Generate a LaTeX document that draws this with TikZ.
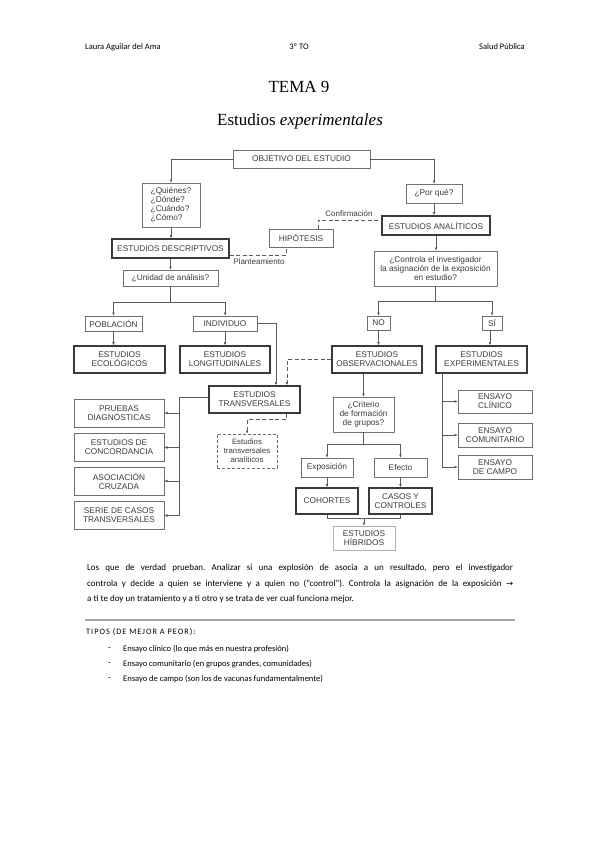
\documentclass[tikz,border=0pt]{standalone}
\usepackage{fontspec}
\setmainfont{Liberation Serif}
\newfontfamily\diagfont{Liberation Sans}
\newfontfamily\calfont{Carlito}
\newfontfamily\calspfont[LetterSpace=12]{Carlito}
\newfontfamily\symfont{DejaVu Sans}
\usetikzlibrary{arrows.meta}
\definecolor{boxgray}{HTML}{6E6E6E}
\definecolor{thickgray}{HTML}{3A3A3A}
\definecolor{linegray}{HTML}{5A5A5A}
\definecolor{txt}{HTML}{3C3C3C}
\definecolor{rulegray}{HTML}{A8A8A8}
\frenchspacing
\begin{document}
\begin{tikzpicture}[x=1pt,y=-1pt,
  nbox/.style={draw=boxgray, line width=0.6pt, inner sep=0pt, align=center, text=txt,
    font=\diagfont\fontsize{8.3}{9}\selectfont},
  tbox/.style={nbox, draw=thickgray, line width=1.5pt},
  dbox/.style={nbox, draw=black!55, dash pattern=on 0.6pt off 0.4pt},
  dsbox/.style={nbox, dash pattern=on 3pt off 2pt, font=\diagfont\fontsize{7.8}{9}\selectfont},
  hbox/.style={nbox, draw=black!30},
  ln/.style={draw=linegray, line width=0.6pt},
  arr/.style={ln, -{Latex[length=3.2pt,width=2.8pt]}},
  dl/.style={ln, dash pattern=on 4pt off 2.5pt},
  darr/.style={dl, -{Latex[length=3.2pt,width=2.8pt]}},
  lbl/.style={text=txt, font=\diagfont\fontsize{8}{9}\selectfont, inner sep=0pt},
  hdr/.style={font=\calfont\fontsize{8.5}{10}\selectfont, inner sep=0pt, text=black},
  body/.style={font=\calfont\fontsize{9}{11}\selectfont, inner sep=0pt, text=black, anchor=west},
]
\path[use as bounding box, fill=white] (0,0) rectangle (599,848);

% header
\node[hdr, anchor=west] (h1) at (85,47) {Laura Aguilar del Ama};
\node[hdr] (h2) at (299,47) {3º TO};
\node[hdr, anchor=east] (h3) at (525,47) {Salud Pública};
\node[inner sep=0pt, font=\fontsize{17}{20}\selectfont] (t1) at (299,87) {TEMA 9};
\node[inner sep=0pt, font=\fontsize{17}{20}\selectfont] (t2) at (300,121) {Estudios \textit{experimentales}};

% boxes
\node[nbox, minimum width=137pt, minimum height=18pt] (obj) at (301.5,159) {OBJETIVO DEL ESTUDIO};
\node[dbox, minimum width=58pt, minimum height=44pt, align=left] (quien) at (171,205) {¿Quiénes?\\¿Dónde?\\¿Cuándo?\\¿Cómo?};
\node[tbox, minimum width=117pt, minimum height=19pt] (desc) at (170.5,248.5) {ESTUDIOS DESCRIPTIVOS};
\node[nbox, minimum width=95pt, minimum height=16pt] (unidad) at (170.5,278) {¿Unidad de análisis?};
\node[nbox, minimum width=64pt, minimum height=18pt] (hip) at (301,238) {HIPÓTESIS};
\node[dbox, minimum width=56pt, minimum height=19pt] (porque) at (434,193.5) {¿Por qué?};
\node[tbox, minimum width=108pt, minimum height=19pt] (anal) at (436,225.5) {ESTUDIOS ANALÍTICOS};
\node[dbox, minimum width=123pt, minimum height=35pt] (controla) at (435.5,268.5) {¿Controla el investigador\\la asignación de la exposición\\en estudio?};
\node[nbox, minimum width=23pt, minimum height=14pt] (no) at (378.5,323) {NO};
\node[nbox, minimum width=20pt, minimum height=14pt] (si) at (492,323) {SÍ};
\node[tbox, minimum width=90pt, minimum height=27pt] (obs) at (377,359.5) {ESTUDIOS\\OBSERVACIONALES};
\node[tbox, minimum width=91pt, minimum height=27pt] (exp) at (481.5,359.5) {ESTUDIOS\\EXPERIMENTALES};
\node[nbox, minimum width=57pt, minimum height=15pt] (pob) at (113.5,323.5) {POBLACIÓN};
\node[nbox, minimum width=64pt, minimum height=15pt] (ind) at (225,323.5) {INDIVIDUO};
\node[tbox, minimum width=91pt, minimum height=27pt] (eco) at (119.5,359.5) {ESTUDIOS\\ECOLÓGICOS};
\node[tbox, minimum width=90pt, minimum height=27pt] (lon) at (225,359.5) {ESTUDIOS\\LONGITUDINALES};
\node[tbox, minimum width=91pt, minimum height=27pt] (trans) at (254.5,399.5) {ESTUDIOS\\TRANSVERSALES};
\node[dsbox, minimum width=60pt, minimum height=34pt] (tanal) at (247,451) {Estudios\\transversales\\analíticos};
\node[nbox, minimum width=90pt, minimum height=28pt] (pru) at (119,413) {PRUEBAS\\DIAGNÓSTICAS};
\node[nbox, minimum width=90pt, minimum height=28pt] (conc) at (119,447.5) {ESTUDIOS DE\\CONCORDANCIA};
\node[nbox, minimum width=90pt, minimum height=28pt] (asoc) at (119,481) {ASOCIACIÓN\\CRUZADA};
\node[nbox, minimum width=90pt, minimum height=28pt] (serie) at (119,515.5) {SERIE DE CASOS\\TRANSVERSALES};
\node[dbox, minimum width=61pt, minimum height=35pt] (crit) at (363.5,414.5) {¿Criterio\\de formación\\de grupos?};
\node[dbox, minimum width=52pt, minimum height=19pt] (expo) at (327,467.5) {Exposición};
\node[dbox, minimum width=53pt, minimum height=19pt] (efe) at (400.5,467.5) {Efecto};
\node[tbox, minimum width=62pt, minimum height=26pt] (coh) at (327,501) {COHORTES};
\node[tbox, minimum width=63pt, minimum height=26pt] (casos) at (400.5,501) {CASOS Y\\CONTROLES};
\node[hbox, minimum width=62pt, minimum height=24pt] (hib) at (364,538) {ESTUDIOS\\HÍBRIDOS};
\node[nbox, minimum width=74pt, minimum height=23pt] (cli) at (495,401.5) {ENSAYO\\CLÍNICO};
\node[nbox, minimum width=74pt, minimum height=24pt] (com) at (495,435) {ENSAYO\\COMUNITARIO};
\node[nbox, minimum width=74pt, minimum height=24pt] (cam) at (495,467) {ENSAYO\\DE CAMPO};

% labels
\node[lbl] (plant) at (259,262) {Planteamiento};
\node[lbl] (conf) at (349,214) {Confirmación};

% connectors
\draw[arr] (obj.west) -| (quien.north);
\draw[arr] (obj.east) -| (porque.north);
\draw[arr] (quien.south) -- (quien.south |- desc.north);
\draw[arr] (desc.south) -- (desc.south |- unidad.north);
\draw[arr] (porque.south) -- (porque.south |- anal.north);
\draw[arr] (anal.south) -- (anal.south |- controla.north);

\coordinate (j1) at (170.5,302);
\draw[ln] (unidad.south) -- (j1);
\draw[arr] (j1) -| (pob.north);
\draw[arr] (j1) -| (ind.north);
\coordinate (j2) at (435.5,301);
\draw[ln] (controla.south) -- (j2);
\draw[arr] (j2) -| (no.north);
\draw[arr] (j2) -| (si.north);

\draw[arr] (pob.south) -- (pob.south |- eco.north);
\draw[arr] (ind.south) -- (ind.south |- lon.north);
\draw[arr] (no.south) -- (no.south |- obs.north);
\draw[arr] ([xshift=-2pt]si.south) -- ([xshift=-2pt]si.south |- exp.north);

\draw[arr] (ind.east) -| ([xshift=21.5pt]trans.north);
\draw[darr] (obs.west) -| ([xshift=32.5pt]trans.north);
\draw[darr] ([xshift=31.5pt]trans.south) -- ++(0,6) -| (tanal.north);

\draw[dl] ([yshift=-6.5pt]desc.east) -| ([xshift=-15pt]hip.south);
\draw[dl] ([xshift=17pt]hip.north) |- ([yshift=5.5pt]anal.west);

\coordinate (tl) at (179,397);
\draw[ln] ([yshift=2.5pt]trans.west) -- (tl) -- (tl |- serie.east);
\draw[arr] (tl |- pru.east) -- (pru.east);
\draw[arr] (tl |- conc.east) -- (conc.east);
\draw[arr] (tl |- asoc.east) -- (asoc.east);
\draw[arr] (tl |- serie.east) -- (serie.east);

\draw[arr] (crit.north |- obs.south) -- (crit.north);
\coordinate (j3) at (363.5,444);
\draw[ln] (crit.south) -- (j3);
\draw[arr] (j3) -| (expo.north);
\draw[arr] (j3) -| (efe.north);
\draw[arr] (expo.south) -- (coh.north);
\draw[arr] (efe.south) -- (casos.north);
\draw[ln] (coh.south) -- ++(0,4) -| (casos.south);
\coordinate (j4) at (364,518);
\draw[arr] (j4) -- (hib.north);

\coordinate (el) at (442,373);
\draw[ln] (el) -- (el |- cam.west);
\draw[arr] (el |- cli.west) -- (cli.west);
\draw[arr] (el |- com.west) -- (com.west);
\draw[arr] (el |- cam.west) -- (cam.west);

% text below
\node[body] (p1) at (87,568) {\makebox[426pt][s]{Los que de verdad prueban. Analizar si una explosión de asocia a un resultado, pero el investigador}};
\node[body] (p2) at (87,584) {\makebox[426pt][s]{controla y decide a quien se interviene y a quien no (“control”). Controla la asignación de la exposición {\symfont\fontsize{8.5}{10}\selectfont →}}};
\node[body] (p3) at (87,599) {a ti te doy un tratamiento y a ti otro y se trata de ver cual funciona mejor.};
\draw[draw=rulegray, line width=1.6pt] (85,620) -- (515,620);
\node[body, font=\calspfont\fontsize{8.3}{10}\selectfont] (tip) at (86,632) {TIPOS (DE MEJOR A PEOR):};
\node[body] (d1) at (108,649) {-};
\node[body] (d2) at (108,664) {-};
\node[body] (d3) at (108,679) {-};
\node[body, font=\calfont\fontsize{8.5}{10}\selectfont] (b1) at (123,649) {Ensayo clínico (lo que más en nuestra profesión)};
\node[body, font=\calfont\fontsize{8.5}{10}\selectfont] (b2) at (123,664) {Ensayo comunitario (en grupos grandes, comunidades)};
\node[body, font=\calfont\fontsize{8.5}{10}\selectfont] (b3) at (123,679) {Ensayo de campo (son los de vacunas fundamentalmente)};
\end{tikzpicture}
\end{document}
